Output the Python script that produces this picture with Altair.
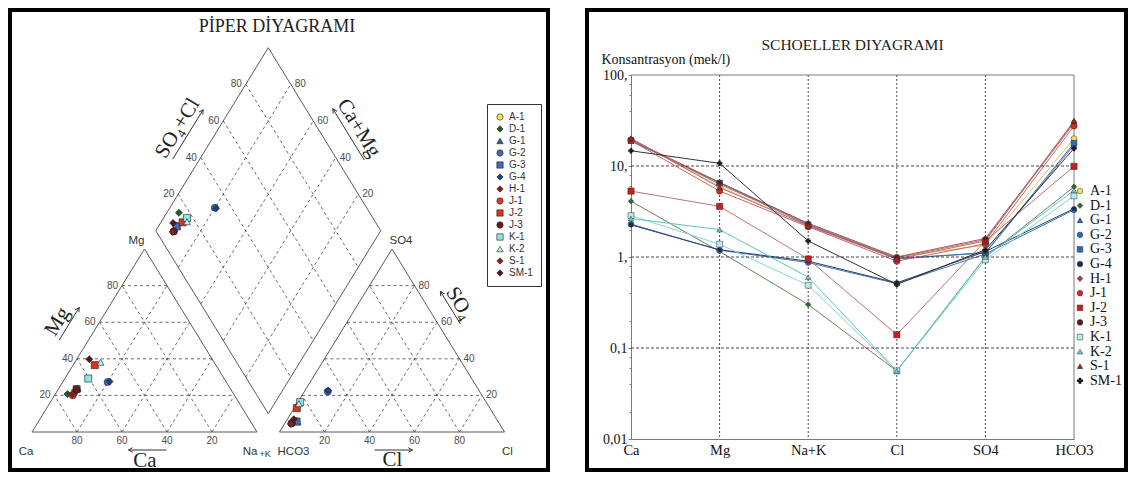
import math
import altair as alt
import pandas as pd

# ---------------- data (meq/l) ----------------
samples = ["A-1", "D-1", "G-1", "G-2", "G-3", "G-4", "H-1", "J-1", "J-2", "J-3",
           "K-1", "K-2", "S-1", "SM-1"]
ions = ["Ca", "Mg", "Na+K", "Cl", "SO4", "HCO3"]

ca   = [19.5, 4.1, 18.8, 2.3, 19.0, 2.25, 19.5, 19.0, 5.3, 19.5, 2.85, 2.65, 20.2, 14.7]
mg   = [6.0, 1.15, 6.6, 1.19, 6.5, 1.2, 6.3, 5.3, 3.6, 6.6, 1.38, 2.0, 5.8, 10.7]
nak  = [2.2, 0.30, 2.3, 0.87, 2.25, 0.9, 2.3, 2.15, 0.95, 2.35, 0.49, 0.6, 2.2, 1.5]
cl   = [1.0, 0.056, 0.97, 0.51, 0.95, 0.52, 0.98, 0.9, 0.14, 1.0, 0.056, 0.056, 0.95, 0.5]
so4  = [1.35, 1.0, 1.1, 1.08, 1.12, 1.15, 1.55, 1.4, 1.5, 1.6, 0.93, 1.0, 1.5, 1.2]
hco3 = [20.0, 5.9, 17.0, 3.3, 17.8, 3.4, 29.5, 27.5, 9.9, 30.5, 4.7, 5.4, 31.5, 15.6]

pip_colors = ["#f5e547", "#1f5a2a", "#2a5caa", "#3b6fc2", "#3a6fc6", "#1f3f86", "#7b1d1d",
              "#e33b22", "#dc3320", "#6e1a1a", "#8ee3e3", "#b5eded", "#8a1f1f", "#5a1616"]
pip_shapes = ["circle", "diamond", "triangle-up", "circle", "square", "diamond", "diamond",
              "circle", "square", "circle", "square", "triangle-up", "diamond", "diamond"]

sch_colors = ["#f2e24c", "#2f6b35", "#2c5fae", "#2f6cc0", "#2a6bbd", "#1c2d55", "#b5302e",
              "#d42b20", "#c71f1f", "#5e1a1a", "#b2ecec", "#70c9c9", "#ad1f1f", "#1a1a1a"]
sch_line_colors = ["#e3c060", "#6f805a", "#4a7cc0", "#3d72b8", "#3d6fb0", "#2a3f70", "#c07070",
                   "#c86565", "#b87575", "#a85a5a", "#7fd8d8", "#5cc4c4", "#b86a6a", "#333333"]
sch_shapes = ["circle", "diamond", "triangle-up", "circle", "square", "circle", "diamond",
              "circle", "square", "circle", "square", "triangle-up", "triangle-up", "cross"]
sch_sizes = [34, 30, 30, 34, 34, 20, 30, 40, 40, 20, 36, 30, 32, 26]

grid_steps = [20, 40, 60, 80]
y_major = [0.01, 0.1, 1, 10, 100]
y_minor = [0.02, 0.04, 0.06, 0.08, 0.2, 0.4, 0.6, 0.8, 2, 4, 6, 8, 20, 40, 60, 80]
y_grid = [10, 1, 0.1]
x_grid = ["Mg", "Na+K", "Cl", "SO4"]

SERIF = "Liberation Serif"
SANS = "Liberation Sans"

# ---------------- Piper geometry (ternary units) ----------------
H = 50 * math.sqrt(3)          # triangle height for side 100
GAP = 10.0
KX, KY = 2.25, 2.113           # pixels per unit (used for annotation offsets)


def cat_pt(ca_p, mg_p):
    return (100.0 - ca_p - mg_p / 2.0, mg_p * H / 100.0)


def an_pt(cl_p, so4_p):
    return (100.0 + GAP + cl_p + so4_p / 2.0, so4_p * H / 100.0)


D_LEFT = (50.0 + GAP / 2.0, GAP * H / 100.0 + H)


def dm_pt(s_p, n_p):
    return (D_LEFT[0] + 0.5 * s_p + 0.5 * n_p, D_LEFT[1] + H / 100.0 * (s_p - n_p))


def to_px(p):
    return (p[0] * KX, -p[1] * KY)


def to_u(q):
    return (q[0] / KX, -q[1] / KY)


def shift(p, dxp, dyp):
    return (p[0] + dxp / KX, p[1] - dyp / KY)


def along_edge(p0, p1, t, dist, side):
    a, b = to_px(p0), to_px(p1)
    dx, dy = b[0] - a[0], b[1] - a[1]
    L = math.hypot(dx, dy)
    ex, ey = dx / L, dy / L
    nx, ny = (ey, -ex) if side > 0 else (-ey, ex)
    x = a[0] + t * dx + dist * nx
    y = a[1] + t * dy + dist * ny
    return to_u((x, y)), (ex, ey)


C_CA, C_NA, C_MG = cat_pt(100, 0), cat_pt(0, 0), cat_pt(0, 100)
A_HC, A_CL, A_SO = an_pt(0, 0), an_pt(100, 0), an_pt(0, 100)
D_L, D_T, D_R, D_B = dm_pt(0, 0), dm_pt(100, 0), dm_pt(100, 100), dm_pt(0, 100)

outline, grid = [], []


def seg(lst, p, q):
    lst.append({"u": p[0], "v": p[1], "u2": q[0], "v2": q[1]})


for p, q in [(C_CA, C_NA), (C_NA, C_MG), (C_MG, C_CA),
             (A_HC, A_CL), (A_CL, A_SO), (A_SO, A_HC),
             (D_L, D_T), (D_T, D_R), (D_R, D_B), (D_B, D_L)]:
    seg(outline, p, q)

for k in grid_steps:
    seg(grid, cat_pt(100 - k, k), cat_pt(0, k))
    seg(grid, cat_pt(k, 0), cat_pt(k, 100 - k))
    seg(grid, cat_pt(100 - k, 0), cat_pt(0, 100 - k))
    seg(grid, an_pt(0, k), an_pt(100 - k, k))
    seg(grid, an_pt(k, 0), an_pt(k, 100 - k))
    seg(grid, an_pt(100 - k, 0), an_pt(0, 100 - k))
    seg(grid, dm_pt(k, 0), dm_pt(k, 100))
    seg(grid, dm_pt(0, k), dm_pt(100, k))

outline_df = pd.DataFrame(outline)
grid_df = pd.DataFrame(grid)

tick_r, tick_l, tick_c = [], [], []
for k in grid_steps:
    p = shift(cat_pt(100 - k, k), -4, 0); tick_r.append({"u": p[0], "v": p[1], "t": str(k)})
    p = shift(dm_pt(k, 0), -4, 0); tick_r.append({"u": p[0], "v": p[1], "t": str(k)})
    p = shift(an_pt(100 - k, k), 4, 0); tick_l.append({"u": p[0], "v": p[1], "t": str(k)})
    p = shift(dm_pt(100, 100 - k), 4, 0); tick_l.append({"u": p[0], "v": p[1], "t": str(k)})
    p = shift(cat_pt(k, 0), 0, 9); tick_c.append({"u": p[0], "v": p[1], "t": str(k)})
    p = shift(an_pt(k, 0), 0, 9); tick_c.append({"u": p[0], "v": p[1], "t": str(k)})

corner = []
for txt, base, dxp, dyp in [("Ca", C_CA, -6, 20), ("Na", C_NA, -7, 20), ("HCO3", A_HC, 14, 20),
                            ("Cl", A_CL, 3, 20), ("Mg", C_MG, -8, -8), ("SO4", A_SO, 9, -8)]:
    p = shift(base, dxp, dyp)
    corner.append({"u": p[0], "v": p[1], "t": txt})
p = shift(C_NA, 8, 22)
sub_df = pd.DataFrame([{"u": p[0], "v": p[1], "t": "+K"}])


def norm_angle(ex, ey):
    a = math.degrees(math.atan2(ey, ex))
    if a <= -90:
        a += 180
    if a > 90:
        a -= 180
    return a % 360


big = []
for txt, p0, p1, t, dist, side in [("Mg", C_CA, C_MG, 0.5, 36, 1),
                                   ("SO₄", A_CL, A_SO, 0.62, 29, -1),
                                   ("SO₄+Cl", D_L, D_T, 0.46, 35, 1),
                                   ("Ca+Mg", D_R, D_T, 0.46, 35, -1)]:
    pt, (ex, ey) = along_edge(p0, p1, t, dist, side)
    big.append({"u": pt[0], "v": pt[1], "t": txt, "ang": norm_angle(ex, ey)})
for txt, base, dxp, dyp in [("Ca", (50.0, 0.0), 0.5, 29), ("Cl", (150.0 + GAP, 0.0), 0.5, 28)]:
    p = shift(base, dxp, dyp)
    big.append({"u": p[0], "v": p[1], "t": txt, "ang": 0})

arrows, heads = [], []


def add_arrow(center_u, ex, ey, half):
    c = to_px(center_u)
    tail = to_u((c[0] - half * ex, c[1] - half * ey))
    tip = to_u((c[0] + half * ex, c[1] + half * ey))
    arrows.append({"u": tail[0], "v": tail[1], "u2": tip[0], "v2": tip[1]})
    heads.append({"u": tip[0], "v": tip[1], "ang": math.degrees(math.atan2(ex, -ey)) % 360})


for p0, p1, t, dist, side, half in [(C_CA, C_MG, 0.52, 25, 1, 19),
                                    (A_CL, A_SO, 0.625, 19, -1, 19),
                                    (D_L, D_T, 0.46, 23, 1, 29),
                                    (D_R, D_T, 0.46, 23, -1, 30)]:
    pt, (ex, ey) = along_edge(p0, p1, t, dist, side)
    add_arrow(pt, ex, ey, half)
add_arrow(shift((50.0, 0.0), 3, 18), -1.0, 0.0, 19)
add_arrow(shift((150.0 + GAP, 0.0), 1.5, 18), 1.0, 0.0, 19)

# sample positions in the Piper diagram (percent of meq)
pip_rows = []
for i, s in enumerate(samples):
    tc = ca[i] + mg[i] + nak[i]
    ta = cl[i] + so4[i] + hco3[i]
    ca_p, mg_p, na_p = 100 * ca[i] / tc, 100 * mg[i] / tc, 100 * nak[i] / tc
    cl_p, so_p = 100 * cl[i] / ta, 100 * so4[i] / ta
    for p in (cat_pt(ca_p, mg_p), an_pt(cl_p, so_p), dm_pt(so_p + cl_p, na_p)):
        pip_rows.append({"sample": s, "u": p[0], "v": p[1]})
pip_df = pd.DataFrame(pip_rows)

# ---------------- Piper chart ----------------
PW, PH = 538, 460
ux = alt.Scale(domain=[-22 / KX, (PW - 22) / KX], nice=False, zero=False)
vy = alt.Scale(domain=[(422 - PH) / KY, 422 / KY], nice=False, zero=False)
X = alt.X("u:Q", scale=ux, axis=None)
Y = alt.Y("v:Q", scale=vy, axis=None)

l_outline = alt.Chart(outline_df).mark_rule(color="#5a5a5a", strokeWidth=1).encode(
    x=X, y=Y, x2="u2:Q", y2="v2:Q")
l_grid = alt.Chart(grid_df).mark_rule(color="#444444", strokeWidth=0.8, strokeDash=[3, 3]).encode(
    x=X, y=Y, x2="u2:Q", y2="v2:Q")
tick_style = dict(font=SANS, fontSize=10, color="#4d4d4d", baseline="middle")
l_tr = alt.Chart(pd.DataFrame(tick_r)).mark_text(align="right", **tick_style).encode(x=X, y=Y, text="t:N")
l_tl = alt.Chart(pd.DataFrame(tick_l)).mark_text(align="left", **tick_style).encode(x=X, y=Y, text="t:N")
l_tc = alt.Chart(pd.DataFrame(tick_c)).mark_text(align="center", **tick_style).encode(x=X, y=Y, text="t:N")
l_corner = alt.Chart(pd.DataFrame(corner)).mark_text(
    align="center", baseline="middle", font=SANS, fontSize=11.5, color="#333333").encode(x=X, y=Y, text="t:N")
l_sub = alt.Chart(sub_df).mark_text(
    align="center", baseline="middle", font=SANS, fontSize=9, color="#333333").encode(x=X, y=Y, text="t:N")
l_big = alt.Chart(pd.DataFrame(big)).mark_text(
    align="center", baseline="middle", font=SERIF, fontSize=21, color="#222222").encode(
    x=X, y=Y, text="t:N", angle=alt.Angle("ang:Q", scale=None))
l_arrow = alt.Chart(pd.DataFrame(arrows)).mark_rule(color="#333333", strokeWidth=1).encode(
    x=X, y=Y, x2="u2:Q", y2="v2:Q")
l_head = alt.Chart(pd.DataFrame(heads)).mark_point(
    shape="M-0.55,1L0,0L0.55,1", filled=False, size=70, stroke="#333333", strokeWidth=1, opacity=1).encode(
    x=X, y=Y, angle=alt.Angle("ang:Q", scale=None))

pip_legend = alt.Legend(title=None, orient="none", legendX=477, legendY=94, strokeColor="#333333",
                        fillColor="white", padding=8, labelFont=SANS, labelFontSize=10,
                        labelColor="#333333", symbolSize=40, symbolStrokeColor="#222222",
                        symbolStrokeWidth=0.6, rowPadding=2, labelOffset=4)
l_pts = alt.Chart(pip_df).mark_point(filled=True, size=50, stroke="#222222", strokeWidth=0.6, opacity=1).encode(
    x=X, y=Y,
    color=alt.Color("sample:N", scale=alt.Scale(domain=samples, range=pip_colors), legend=pip_legend),
    shape=alt.Shape("sample:N", scale=alt.Scale(domain=samples, range=pip_shapes), legend=pip_legend),
)

piper = alt.layer(l_outline, l_grid, l_tr, l_tl, l_tc, l_corner, l_sub, l_big, l_arrow, l_head, l_pts).properties(
    width=PW, height=PH,
    title=alt.TitleParams(text="PİPER DİYAGRAMI", anchor="middle", frame="group", offset=-35,
                          baseline="middle", font=SERIF, fontSize=18, fontWeight="normal",
                          color="#222222", dx=-2),
    view=alt.ViewBackground(stroke="black", strokeWidth=4, fill="white"),
)

# ---------------- Schoeller chart ----------------
vals = {"Ca": ca, "Mg": mg, "Na+K": nak, "Cl": cl, "SO4": so4, "HCO3": hco3}
sch_rows = []
for i, s in enumerate(samples):
    for j, ion in enumerate(ions):
        sch_rows.append({"sample": s, "ion": ion, "val": vals[ion][i], "k": j,
                         "lc": sch_line_colors[i], "sz": sch_sizes[i]})
sch_df = pd.DataFrame(sch_rows)

SW, SH = 539, 460
xs = alt.Scale(type="point", domain=ions, range=[44, 487], padding=0)
ys = alt.Scale(type="log", domain=[0.01, 100], range=[429, 65], nice=False)

major_test = "indexof([0.01, 0.1, 1, 10, 100], datum.value) >= 0"
x_axis = alt.Axis(title=None, offset=-31, labelAngle=0, labelFont=SERIF, labelFontSize=14.5,
                  labelColor="#111111", labelPadding=4, ticks=False, domainColor="#7a7a7a", grid=False)
y_axis = alt.Axis(title="Konsantrasyon (mek/l)", titleAngle=0, titleAlign="left", titleBaseline="middle",
                  titleX=-30, titleY=49, titleFont=SERIF, titleFontSize=14, titleFontWeight="normal",
                  titleColor="#111111", offset=-44, values=y_major + y_minor,
                  labelExpr="indexof([0.01, 0.1, 1, 10, 100], datum.value) < 0 ? '' : "
                            "(datum.value >= 1 ? format(datum.value, 'd') + ',' : "
                            "replace(format(datum.value, '.2~f'), '.', ','))",
                  labelFont=SERIF, labelFontSize=14, labelColor="#111111", labelPadding=1,
                  tickColor="#7a7a7a",
                  tickSize={"condition": {"test": major_test, "value": 3}, "value": 2},
                  domainColor="#7a7a7a", grid=False)

SX = alt.X("ion:N", scale=xs, axis=x_axis)
SY = alt.Y("val:Q", scale=ys, axis=y_axis)
SX2 = alt.X("ion:N", scale=xs)
SY2 = alt.Y("val:Q", scale=ys)

s_lines = alt.Chart(sch_df).mark_line(strokeWidth=1).encode(
    x=SX, y=SY, detail="sample:N", order=alt.Order("k:Q"),
    stroke=alt.Stroke("lc:N", scale=None))

vgrid = alt.Chart(pd.DataFrame({"ion": x_grid, "val": [100] * len(x_grid), "val2": [0.01] * len(x_grid)})).mark_rule(
    color="#333333", strokeWidth=0.9, strokeDash=[2, 2]).encode(x=SX2, y=SY2, y2="val2:Q")
hgrid = alt.Chart(pd.DataFrame({"ion": ["Ca"] * len(y_grid), "ion2": ["HCO3"] * len(y_grid), "val": y_grid})).mark_rule(
    color="#333333", strokeWidth=0.9, strokeDash=[3, 2]).encode(x=SX2, x2="ion2:N", y=SY2)

frame_top = alt.Chart(pd.DataFrame({"ion": ["Ca"], "ion2": ["HCO3"], "val": [100]})).mark_rule(
    color="#7a7a7a", strokeWidth=1).encode(x=SX2, x2="ion2:N", y=SY2)
frame_right = alt.Chart(pd.DataFrame({"ion": ["HCO3"], "val": [100], "val2": [0.01]})).mark_rule(
    color="#7a7a7a", strokeWidth=1).encode(x=SX2, y=SY2, y2="val2:Q")

sch_legend = alt.Legend(title=None, orient="none", legendX=486, legendY=174, labelFont=SERIF,
                        labelFontSize=14, labelColor="#111111", symbolSize=32, symbolStrokeColor="#333333",
                        symbolStrokeWidth=0.5, rowPadding=0.6, padding=0, labelOffset=3)
s_pts = alt.Chart(sch_df).mark_point(filled=True, stroke="#333333", strokeWidth=0.5, opacity=1).encode(
    x=SX2, y=SY2,
    color=alt.Color("sample:N", scale=alt.Scale(domain=samples, range=sch_colors), legend=sch_legend),
    shape=alt.Shape("sample:N", scale=alt.Scale(domain=samples, range=sch_shapes), legend=sch_legend),
    size=alt.Size("sz:Q", scale=None),
)

schoeller = alt.layer(s_lines, vgrid, hgrid, frame_top, frame_right, s_pts).properties(
    width=SW, height=SH,
    title=alt.TitleParams(text="SCHOELLER DIYAGRAMI", anchor="middle", frame="group", offset=-50,
                          baseline="middle", font=SERIF, fontSize=15.5, fontWeight="normal",
                          color="#222222", dx=-4),
    view=alt.ViewBackground(stroke="black", strokeWidth=4, fill="white"),
)

chart = alt.hconcat(piper, schoeller, spacing=35).resolve_scale(
    color="independent", shape="independent").properties(padding=0).configure_axis(
    labelFont=SERIF, titleFont=SERIF)

chart.save("out.html", embed_options={"renderer": "svg", "actions": False})
